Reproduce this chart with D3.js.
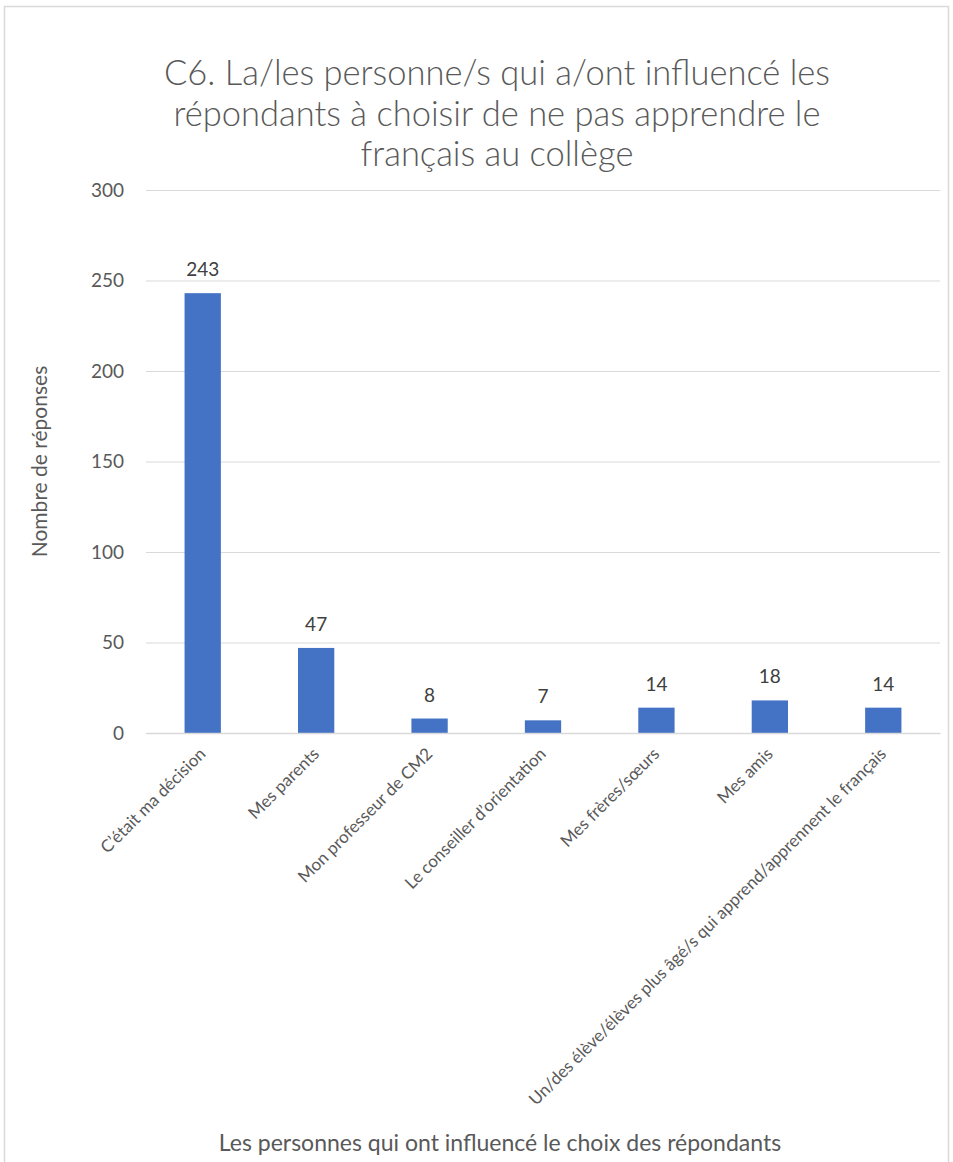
<!DOCTYPE html>
<html><head><meta charset="utf-8">
<script src="https://cdn.jsdelivr.net/npm/d3@7"></script>
<style>body{margin:0;background:#fff}svg{display:block}</style>
</head><body>
<script>
const categories = ["C’était ma décision","Mes parents","Mon professeur de CM2","Le conseiller d’orientation","Mes frères/sœurs","Mes amis","Un/des élève/élèves plus âgé/s qui apprend/apprennent le français"];
const values = [243,47,8,7,14,18,14];
const yTicks = [0,50,100,150,200,250,300];
const titleLines = ["C6. La/les personne/s qui a/ont influencé les","répondants à choisir de ne pas apprendre le","français au collège"];
const yTitle = "Nombre de réponses";
const xTitle = "Les personnes qui ont influencé le choix des répondants";

const W=953,H=1162;
const font="Lato, 'Open Sans', sans-serif";
const svg=d3.select("body").append("svg").attr("width",W).attr("height",H);
svg.append("rect").attr("x",4.5).attr("y",6.5).attr("width",944).attr("height",1200)
  .attr("fill","#fff").attr("stroke","#d9d9d9").attr("stroke-width",1.5);

const pLeft=146,pRight=940,pTop=190,pBottom=733;
const x=d3.scaleBand().domain(categories).range([pLeft,pRight]).paddingInner(0.68).paddingOuter(0.34);
const y=d3.scaleLinear().domain([0,300]).range([pBottom,pTop]);

// title
svg.append("g").selectAll("text").data(titleLines).join("text")
  .attr("x",497).attr("y",(d,i)=>85+i*40.5).attr("text-anchor","middle")
  .attr("font-family",font).attr("font-weight",300).attr("font-size",34.5).attr("fill","#595959").text(d=>d);

// grid
const gy=svg.append("g").attr("transform",`translate(${pLeft},0)`)
  .call(d3.axisLeft(y).tickValues(yTicks).tickSize(-(pRight-pLeft)).tickPadding(22));
gy.select(".domain").remove();
gy.selectAll(".tick line").attr("stroke","#d9d9d9").attr("stroke-width",1);
gy.selectAll(".tick text").attr("font-family",font).attr("font-size",19).attr("fill","#595959");

// bars
svg.append("g").selectAll("rect").data(values).join("rect")
  .attr("x",(d,i)=>x(categories[i])).attr("width",x.bandwidth())
  .attr("y",d=>y(d)).attr("height",d=>y(0)-y(d)).attr("fill","#4472C4");

// x axis
const gx=svg.append("g").attr("transform",`translate(0,${pBottom})`)
  .call(d3.axisBottom(x).tickSize(0).tickPadding(0));
gx.select(".domain").attr("stroke","#d9d9d9").attr("stroke-width",1.5);
gx.selectAll(".tick text").attr("font-family",font).attr("font-size",17).attr("fill","#595959")
  .attr("text-anchor","end").attr("dy",0)
  .attr("transform","translate(4,22) rotate(-45)");

// data labels
svg.append("g").selectAll("text").data(values).join("text")
  .attr("x",(d,i)=>x(categories[i])+x.bandwidth()/2).attr("y",d=>y(d)-17)
  .attr("text-anchor","middle").attr("font-family",font).attr("font-size",19).attr("fill","#404040")
  .text(d=>d);

// axis titles
svg.append("text").attr("transform",`translate(47,${(pTop+pBottom)/2}) rotate(-90)`)
  .attr("text-anchor","middle").attr("font-family",font).attr("font-size",21).attr("fill","#595959").text(yTitle);
svg.append("text").attr("x",500).attr("y",1151).attr("text-anchor","middle")
  .attr("font-family",font).attr("font-size",23).attr("fill","#595959").text(xTitle);
</script>
</body></html>
